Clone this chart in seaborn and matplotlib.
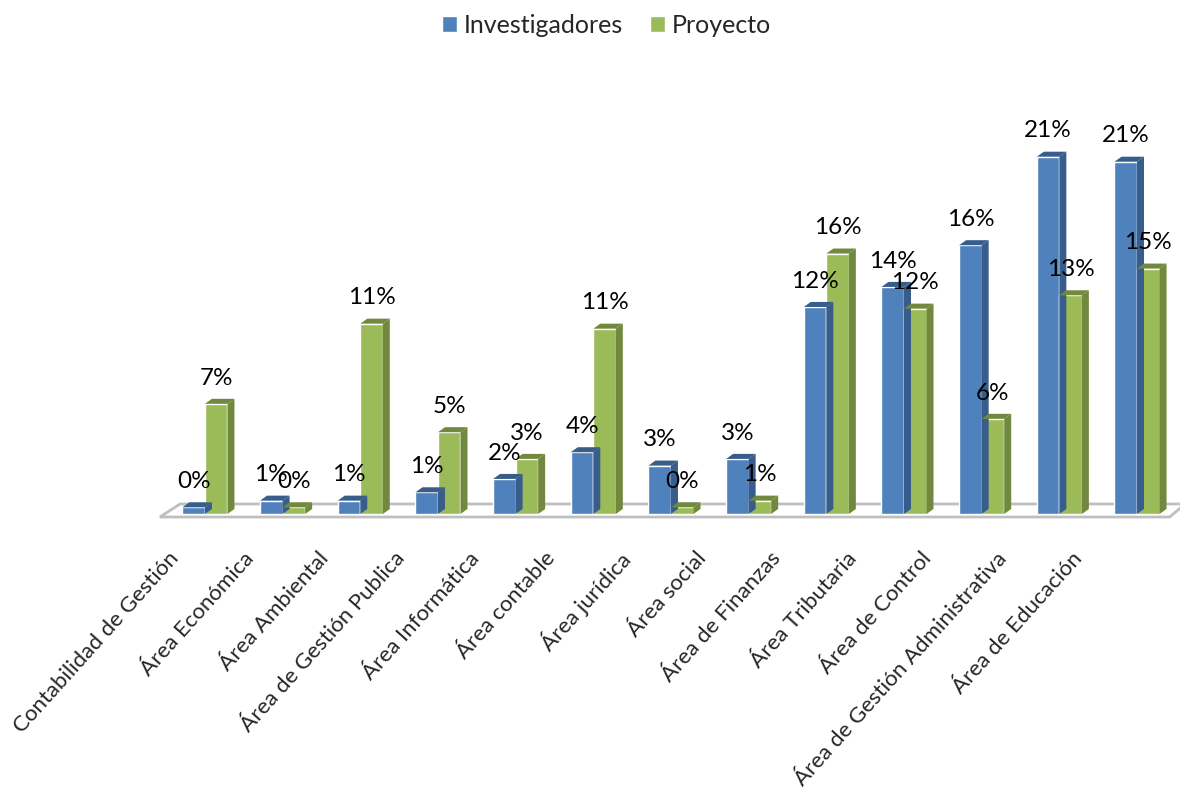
import matplotlib
matplotlib.use("Agg")
import matplotlib.pyplot as plt
import matplotlib.transforms as mtransforms
from matplotlib.patches import Polygon
import pandas as pd
import seaborn as sns

# datos (fracciones)
categorias = [
    "Contabilidad de Gestión", "Área Económica", "Área Ambiental",
    "Área de Gestión Publica", "Área Informática", "Área contable",
    "Área jurídica", "Área social", "Área de Finanzas", "Área Tributaria",
    "Área de Control", "Área de Gestión Administrativa", "Área de Educación",
]
investigadores = [0.004, 0.008, 0.008, 0.013, 0.021, 0.037, 0.029, 0.033,
                  0.124, 0.136, 0.161, 0.214, 0.211]
proyecto = [0.066, 0.004, 0.114, 0.049, 0.033, 0.111, 0.004, 0.008,
            0.156, 0.123, 0.057, 0.131, 0.147]
series = ["Investigadores", "Proyecto"]

colores = {"Investigadores": "#4F81BD", "Proyecto": "#9BBB59"}
lados = {"Investigadores": "#385D8A", "Proyecto": "#71893F"}

df = pd.DataFrame({
    "Categoria": categorias * 2,
    "Serie": [series[0]] * len(categorias) + [series[1]] * len(categorias),
    "Valor": investigadores + proyecto,
})

sns.set_style("white")
plt.rcParams["font.family"] = ["Lato", "DejaVu Sans"]

fig = plt.figure(figsize=(11.8, 7.97), dpi=100)
ax = fig.add_axes([0.1276, 0.3488, 0.8656, 0.530])

sns.barplot(data=df, x="Categoria", y="Valor", hue="Serie", palette=colores,
            width=0.58, saturation=1, ax=ax, legend=True)

ax.set_xlim(-0.7, 12.45)
ax.set_ylim(-0.003, 0.25)

# piso en perspectiva
piso = Polygon([(-0.58, -0.0018), (12.42, -0.0018), (12.62, 0.006), (-0.32, 0.006)],
               closed=True, facecolor="white", edgecolor="#BFBFBF", lw=2,
               zorder=0.5, clip_on=False)
ax.add_patch(piso)

# efecto 3D: cara lateral y superior a partir de cada barra
dx, dy = 0.09, 0.003
for serie, cont in zip(series, ax.containers):
    for p in cont.patches:
        x0, y0 = p.get_x(), p.get_y()
        w, h = p.get_width(), p.get_height()
        x1, y1 = x0 + w, y0 + h
        ax.add_patch(Polygon([(x1, y0), (x1 + dx, y0 + dy), (x1 + dx, y1 + dy), (x1, y1)],
                             closed=True, facecolor=lados[serie], edgecolor="none", zorder=2))
        ax.add_patch(Polygon([(x0, y1), (x0 + dx, y1 + dy), (x1 + dx, y1 + dy), (x1, y1)],
                             closed=True, facecolor=lados[serie], edgecolor="none", zorder=2))
        ax.annotate(f"{h:.0%}", (x0 + w / 2, y1), xytext=(0, 11), textcoords="offset points",
                    ha="center", va="bottom", fontsize=17.5, color="black", zorder=5)

for s in ax.spines.values():
    s.set_visible(False)
ax.set_yticks([])
ax.set_xlabel("")
ax.set_ylabel("")
ax.tick_params(axis="x", length=0, pad=26, labelsize=16)
for i, lbl in enumerate(ax.get_xticklabels()):
    desplaz = mtransforms.ScaledTranslation(-(30 + 2.33 * i) / 100, 0, fig.dpi_scale_trans)
    lbl.set_rotation(48)
    lbl.set_ha("right")
    lbl.set_va("center")
    lbl.set_rotation_mode("anchor")
    lbl.set_transform(lbl.get_transform() + desplaz)

handles, labels = ax.get_legend_handles_labels()
ax.get_legend().remove()
fig.legend(handles, labels, loc="center", bbox_to_anchor=(0.514, 0.968), ncol=2,
           frameon=False, fontsize=18, handlelength=0.6, handleheight=0.6,
           handletextpad=0.25, columnspacing=1.1)

fig.savefig("out.png", dpi=100)
